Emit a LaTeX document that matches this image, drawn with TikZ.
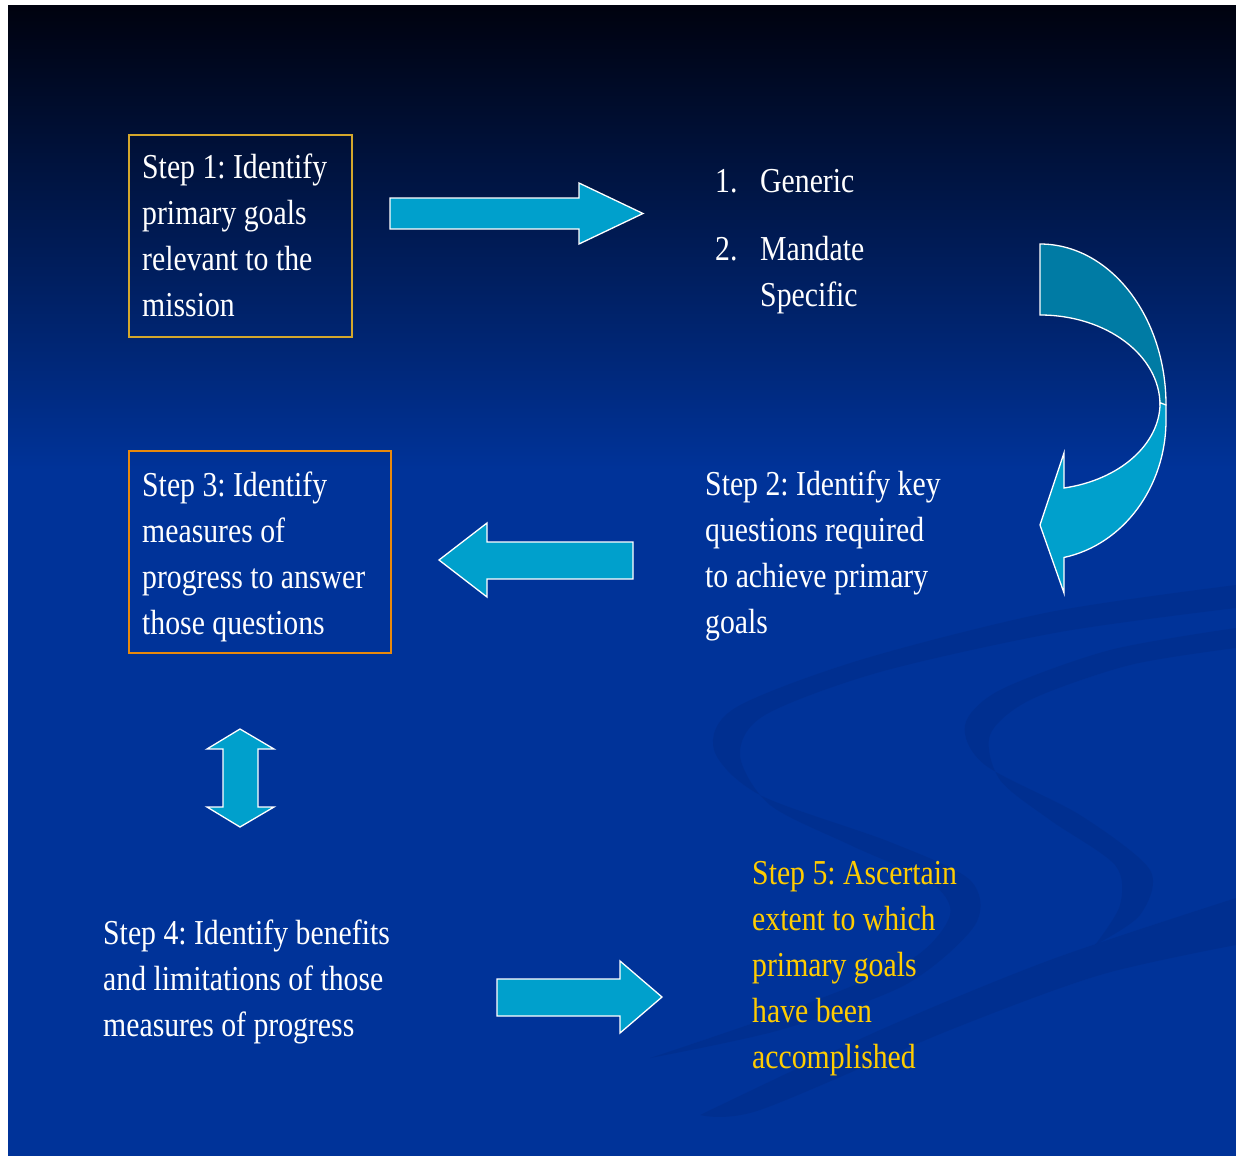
\documentclass[tikz,border=0pt]{standalone}
\usepackage{fontspec}
\setmainfont[FakeStretch=0.85]{Liberation Serif}
\frenchspacing
\definecolor{bgblue}{HTML}{003399}
\definecolor{bgtop}{HTML}{00020F}
\definecolor{arrowcyan}{HTML}{00A0CC}
\definecolor{arrowteal}{HTML}{007BA4}
\definecolor{swirl}{HTML}{002D8A}
\definecolor{goldline}{HTML}{D4A72C}
\definecolor{orangeline}{HTML}{E8890C}
\definecolor{stepyellow}{HTML}{FFCC00}
\begin{document}
\begin{tikzpicture}[x=1pt,y=-1pt,
  blockarrow/.style={fill=arrowcyan, draw=white, line width=1.3pt, line join=miter},
  tealarrow/.style={fill=arrowteal, draw=white, line width=1.3pt},
  txt/.style={anchor=base west, inner sep=0pt, text=white, font=\fontsize{35}{46}\selectfont\frenchspacing},
  yellowtxt/.style={txt, text=stepyellow},
  stepbox/.style={draw, line width=1.3pt, inner sep=0pt, minimum height=202pt},
  swirlband/.style={fill=swirl, opacity=0.55}]
\useasboundingbox (0,0) rectangle (1236,1156);
\fill[white] (0,0) rectangle (1236,1156);
\fill[bgblue] (8,6) rectangle (1236,1156);
\shade[top color=bgtop, bottom color=bgblue] (8,6) rectangle (1236,470);
% background swirls
\fill[swirlband] plot[smooth] coordinates {(1236,585) (1050,612) (860,660) (735,708) (714,750) (760,795) (890,842) (970,880) (975,925) (905,985) (780,1030) (650,1058)}
  -- plot[smooth] coordinates {(650,1058) (790,1010) (910,960) (950,915) (930,882) (850,845) (770,805) (740,755) (765,715) (880,672) (1060,632) (1236,608)} -- cycle;
\fill[swirlband] plot[smooth] coordinates {(1236,628) (1110,650) (1000,690) (965,725) (985,765) (1080,815) (1150,870) (1140,915) (1095,945)}
  -- plot[smooth] coordinates {(1095,945) (1120,905) (1115,865) (1050,820) (1000,780) (990,735) (1030,700) (1130,665) (1236,648)} -- cycle;
\fill[swirlband] plot[smooth] coordinates {(1236,898) (1050,960) (880,1030) (700,1115)}
  -- plot[smooth] coordinates {(700,1115) (760,1110) (950,1030) (1100,975) (1236,945)} -- cycle;
% boxes
\node[stepbox, draw=goldline, minimum width=223pt] (b1) at (240.5,236) {};
\node[stepbox, draw=orangeline, minimum width=262pt] (b3) at (260,552) {};
% texts
\node[txt] (s1) at (142,178) {\parbox[t]{260pt}{\raggedright Step 1: Identify\\primary goals\\relevant to the\\mission}};
\node[txt] (n1) at (715,192) {1.};
\node[txt] (g1) at (760,192) {Generic};
\node[txt] (n2) at (715,260) {2.};
\node[txt] (g2) at (760,260) {\parbox[t]{200pt}{\raggedright Mandate\\Specific}};
\node[txt] (s2) at (705,495) {\parbox[t]{300pt}{\raggedright Step 2: Identify key\\questions required\\to achieve primary\\goals}};
\node[txt] (s3) at (142,496) {\parbox[t]{300pt}{\raggedright Step 3: Identify\\measures of\\progress to answer\\those questions}};
\node[txt] (s4) at (103,944) {\parbox[t]{360pt}{\raggedright Step 4: Identify benefits\\and limitations of those\\measures of progress}};
\node[yellowtxt] (s5) at (752,884) {\parbox[t]{300pt}{\raggedright Step 5: Ascertain\\extent to which\\primary goals\\have been\\accomplished}};
% straight block arrows
\draw[blockarrow] (390,198) -- (579,198) -- (579,183) -- (643,213.5) -- (579,244) -- (579,229) -- (390,229) -- cycle;
\draw[blockarrow] (633,542) -- (487,542) -- (487,523) -- (439,560) -- (487,597) -- (487,579) -- (633,579) -- cycle;
\draw[blockarrow] (497,979) -- (620,979) -- (620,961) -- (662,997) -- (620,1033) -- (620,1016) -- (497,1016) -- cycle;
\draw[blockarrow] (240,729) -- (274,749) -- (258,749) -- (258,807) -- (274,807) -- (240,827) -- (207,807) -- (223,807) -- (223,749) -- (207,749) -- cycle;
% curved arrow
\draw[tealarrow] (1040,244) arc[start angle=-90, end angle=0, x radius=126, y radius=161] -- (1160,405) arc[start angle=0, end angle=-90, x radius=120, y radius=90] -- cycle;
\draw[blockarrow] (1166,405) -- (1166,420) arc[start angle=0, end angle=79, x radius=126, y radius=140] -- (1064,593) -- (1040,525) -- (1064,453) -- (1064,488) arc[start angle=78.5, end angle=0, x radius=120, y radius=87] -- cycle;
\end{tikzpicture}
\end{document}
